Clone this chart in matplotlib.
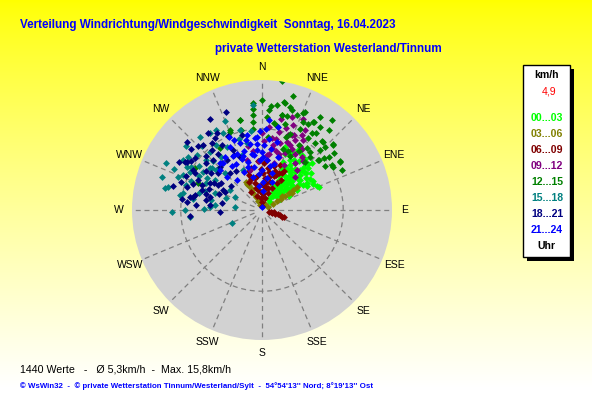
import matplotlib
matplotlib.use("Agg")
import matplotlib.pyplot as plt
import numpy as np
from matplotlib.patches import Rectangle

plt.rcParams['font.family'] = ['Liberation Sans', 'DejaVu Sans']

# wind direction (deg) / speed (km/h) per time bin
dir_00 = [30, 35, 40, 45, 50, 38, 42, 48, 52, 55, 33, 36, 40, 44, 47, 50, 53, 57, 60, 30,
          28, 34, 38, 42, 46, 49, 52, 55, 58, 62, 26, 31, 35, 39, 43, 47, 50, 54, 57, 24,
          29, 33, 37, 41, 45, 44, 22, 20, 27, 48, 60, 66, 68, 36, 31, 25, 30, 45, 58, 62,
          34, 39, 46, 51, 56, 43, 37, 48, 53, 41, 45, 35, 32, 28, 59, 63, 40, 47, 27, 38]
spd_00 = [1.5, 2.0, 2.2, 2.5, 2.8, 3.0, 3.4, 3.6, 3.2, 3.9, 3.5, 4.0, 4.3, 4.6, 4.1, 4.8, 4.4, 4.6, 5.0, 4.2,
          4.8, 5.0, 5.3, 5.6, 5.2, 5.8, 6.0, 5.5, 5.9, 6.3, 5.6, 5.9, 6.2, 6.5, 6.8, 6.4, 7.0, 6.7, 7.1, 6.5,
          7.0, 7.3, 7.6, 7.9, 8.0, 7.4, 7.4, 8.3, 8.0, 7.7, 7.2, 7.4, 7.5, 8.4, 8.6, 3.2, 2.6, 1.4, 2.6, 3.8,
          2.8, 3.8, 3.0, 4.2, 5.1, 5.0, 5.8, 6.9, 7.5, 6.2, 7.0, 7.0, 6.6, 6.0, 6.5, 7.0, 8.2, 8.4, 7.5, 4.8]

dir_03 = [340, 338, 335, 333, 332, 331, 330, 334, 329, 62, 61, 60, 59, 58, 58, 57, 57, 60, 56, 345, 28, 15]
spd_03 = [0.6, 1.2, 1.8, 2.4, 3.0, 3.5, 4.0, 2.8, 3.7, 0.8, 1.5, 2.1, 2.7, 3.3, 3.9, 4.5, 5.1, 4.2, 3.0, 1.0, 0.9, 0.5]

dir_06 = [0, 355, 5, 350, 10, 0, 345, 15, 5, 352, 20, 340, 10, 358, 25, 345, 15, 3, 28, 335,
          330, 338, 20, 25, 30, 12, 8, 348, 2, 18, 33, 342, 6, 22, 355, 0,
          350, 5, 12, 358, 344, 22, 15, 8, 30, 340,
          103, 104, 105, 106, 107, 108, 109, 100, 101]
spd_06 = [1.0, 1.5, 2.0, 2.5, 2.8, 3.2, 3.4, 3.6, 4.0, 4.2, 4.4, 4.6, 4.8, 5.0, 5.0, 5.4, 5.6, 5.8, 5.2, 3.8,
          2.6, 1.8, 2.2, 3.0, 3.8, 1.5, 3.4, 4.0, 4.5, 5.0, 4.4, 5.1, 6.2, 6.0, 6.0, 0.5,
          3.0, 3.0, 4.2, 2.2, 2.8, 4.6, 2.8, 5.2, 5.5, 4.0,
          0.9, 1.3, 1.7, 2.0, 2.3, 2.6, 2.8, 1.1, 1.5]

dir_09 = [5, 23, 25, 28, 23, 15, 13, 20, 22, 12, 9, 351, 343, 343, 41, 40, 10, 20, 22, 18,
          30, 33, 16, 8, 2, 356, 26, 35, 14, 5, 30, 18, 24, 12, 45, 348, 0,
          19, 26, 11, 31, 17, 7, 37, 28]
spd_09 = [10.3, 10.0, 9.5, 11.2, 8.7, 8.5, 7.4, 11.1, 9.9, 9.8, 7.7, 7.3, 6.4, 5.1, 6.5, 7.8, 8.1, 8.9, 7.5, 6.8,
          8.0, 9.0, 10.5, 9.0, 8.5, 6.0, 6.2, 7.0, 6.0, 6.8, 10.0, 12.0, 12.3, 11.5, 5.8, 8.0, 9.5,
          9.8, 8.4, 8.9, 9.2, 7.2, 7.0, 8.2, 10.5]

dir_12 = [8.7, 15.4, 8, 12, 16.5, 22.8, 30, 38, 41, 47.5, 58, 59, 48, 42, 355, 355, 354.6, 354, 353.7, 346,
          345, 337.7, 11.3, 3.8, 15.3, 11.9, 23.8, 30.3, 35, 33, 42, 47, 51.7, 58.3, 63.4, 57.3, 48.6, 39.6, 32, 42,
          293, 302, 325.8, 338, 346, 5, 10, 15, 20, 25, 28, 33, 36, 18, 12, 3, 38, 30, 24, 44,
          50, 55, 27, 19, 8, 20, 15, 25, 35, 40, 45, 52, 32, 5, 0]
spd_12 = [16.0, 14.5, 13.0, 13.5, 12.8, 13.0, 12.5, 14.0, 11.2, 11.8, 11.3, 10.2, 9.2, 8.8, 13.2, 12.5, 11.7, 10.9, 10.0, 11.4,
          10.2, 10.4, 13.6, 12.3, 13.2, 12.0, 13.2, 12.6, 12.5, 11.3, 11.3, 12.0, 11.3, 11.3, 11.0, 10.2, 9.3, 9.3, 8.5, 8.0,
          8.5, 9.7, 9.2, 10.6, 11.4, 9.0, 10.5, 11.0, 10.0, 11.0, 12.0, 10.5, 9.5, 9.5, 12.0, 11.5, 10.5, 9.2, 8.0, 10.2,
          10.0, 9.5, 7.5, 8.0, 10.8, 12.5, 12.0, 12.0, 11.5, 12.8, 11.0, 10.5, 13.5, 12.8, 13.5]

dir_15 = [268.5, 288, 296, 264.5, 246.6, 337.4, 355, 280, 311, 282, 291.7, 300, 326, 309.8, 313.6, 312, 276, 288, 347, 344.6,
          294, 301.6, 303, 308.7, 302.5, 295.7, 333.2, 330.9, 296, 277, 273.6, 302, 335, 310, 318, 322, 305, 298, 315, 285,
          290, 320, 340, 352, 270, 284, 292, 298, 306, 315, 300, 288, 279, 271, 283, 295, 325, 330, 342, 288, 302, 310,
          317, 281]
spd_15 = [11.1, 13.0, 13.1, 8.9, 4.0, 11.9, 13.0, 10.3, 7.5, 10.0, 11.1, 10.7, 11.4, 8.0, 7.4, 9.2, 5.8, 4.6, 8.4, 10.2,
          10.6, 10.2, 8.6, 8.2, 6.9, 7.6, 10.6, 8.9, 3.7, 3.3, 6.4, 4.6, 5.4, 10.5, 9.6, 8.2, 9.5, 8.8, 6.4, 8.0,
          6.2, 11.8, 7.2, 9.8, 9.5, 11.9, 9.4, 10.0, 11.2, 8.6, 7.8, 7.4, 8.6, 7.2, 12.3, 12.0, 9.8, 11.4, 9.2, 9.8, 11.5, 12.2,
          10.8, 6.4]

dir_18 = [340, 330, 311, 302.7, 265, 280.5, 329.7, 325, 323, 302, 298.7, 295, 287, 278, 281, 288.3, 284, 298.7, 279.4, 297,
          314, 322, 324.8, 334.4, 337.6, 319, 316, 315.8, 275.5, 267.7, 274.4, 305, 310, 292, 306, 300, 290, 283, 318, 345,
          335, 308, 326, 312, 294, 285, 300, 305, 310, 289, 293, 297, 303, 320, 328, 333, 286, 280, 276, 291, 308, 315,
          320, 327, 300, 296]
spd_18 = [12.9, 12.9, 11.5, 11.0, 8.9, 9.0, 11.0, 11.5, 10.3, 11.2, 9.4, 8.7, 9.7, 10.0, 8.6, 7.8, 6.6, 6.8, 5.0, 5.4,
          9.5, 8.8, 7.5, 8.2, 7.1, 6.0, 7.4, 8.6, 6.4, 5.2, 8.1, 10.6, 9.0, 7.0, 7.8, 6.2, 5.6, 8.4, 10.8, 9.6,
          10.0, 4.8, 5.8, 12.5, 10.2, 11.3, 9.8, 8.4, 7.0, 10.5, 8.0, 7.2, 6.0, 7.6, 9.4, 7.6, 7.2, 7.0, 9.3, 9.1, 10.4, 11.2,
          9.6, 10.6, 11.8, 5.0]

dir_21 = [4.6, 11, 354.4, 357.7, 336, 313.6, 19, 341.7, 340.7, 331.7, 320, 313.3, 320, 355, 0, 5.4, 14.8, 4, 0, 355.5,
          358.5, 349.8, 348.5, 333, 338.5, 344, 350, 345, 352, 8, 12, 2, 326, 335, 10, 3, 17,
          350, 356, 1, 6, 347, 343, 330, 325, 338, 0, 8, 15, 352, 356, 342, 318, 336, 2]
spd_21 = [11.1, 10.4, 8.9, 6.2, 9.9, 7.1, 3.7, 8.7, 7.0, 7.5, 7.5, 6.0, 4.8, 7.4, 4.9, 6.2, 4.7, 2.3, 0.4, 8.2,
          9.7, 8.3, 9.4, 8.7, 6.8, 6.2, 5.4, 4.2, 3.0, 7.6, 8.6, 8.0, 6.5, 5.2, 5.5, 10.0, 6.8,
          7.0, 9.0, 6.5, 8.8, 8.8, 7.6, 6.5, 8.0, 9.3, 7.2, 4.0, 5.8, 6.8, 4.5, 5.6, 7.8, 7.6, 3.4]

bins = ['00...03', '03...06', '06...09', '09...12', '12...15', '15...18', '18...21', '21...24']
colors = ['#00ff00', '#808000', '#800000', '#800080', '#008000', '#008080', '#000080', '#0000ff']
all_dirs = [dir_00, dir_03, dir_06, dir_09, dir_12, dir_15, dir_18, dir_21]
all_spds = [spd_00, spd_03, spd_06, spd_09, spd_12, spd_15, spd_18, spd_21]

compass = ['N', 'NNE', 'NE', 'ENE', 'E', 'ESE', 'SE', 'SSE',
           'S', 'SSW', 'SW', 'WSW', 'W', 'WNW', 'NW', 'NNW']
rmax = 16

fig = plt.figure(figsize=(5.92, 4.07), dpi=100)

# yellow -> white gradient background
bg = fig.add_axes([0, 0, 1, 1])
grad = np.linspace(0, 1, 256).reshape(-1, 1)
rgb = np.ones((256, 1, 3))
rgb[:, 0, 2] = np.clip(grad[:, 0] * 1.05, 0, 1) ** 0.8
bg.imshow(rgb, aspect='auto', extent=[0, 1, 0, 1], origin='upper')
bg.set_xlim(0, 1)
bg.set_ylim(0, 1)
bg.axis('off')

W, H = 592, 407
cx, cy, rad = 262, 210, 130
ax = fig.add_axes([(cx - rad) / W, (H - cy - rad) / H, 2 * rad / W, 2 * rad / H], projection='polar')
ax.set_theta_zero_location('N')
ax.set_theta_direction(-1)
ax.set_ylim(0, rmax)
ax.set_facecolor('#d2d2d2')
ax.set_xticks([])
ax.set_yticks([])
ax.grid(False)
ax.spines['polar'].set_visible(False)

for i, name in enumerate(compass):
    th = np.radians(i * 22.5)
    ax.plot([th, th], [1.0, rmax], ls=(0, (4, 3)), color='#808080', lw=0.9, zorder=1)
    ax.text(th, 17.6, name, ha='center', va='center', fontsize=7.5, clip_on=False)
ring = np.linspace(0, 2 * np.pi, 300)
ax.plot(ring, np.full_like(ring, 10), ls=(0, (4, 3)), color='#808080', lw=0.9, zorder=1)

for d, s, c in zip(all_dirs, all_spds, colors):
    ax.plot(np.radians(d), s, 'D', ms=3.5, color=c, mew=0, ls='none', zorder=3)

# titles
fig.text(20 / W, 1 - 25 / H, 'Verteilung Windrichtung/Windgeschwindigkeit  Sonntag, 16.04.2023',
         color='#0000ff', fontsize=8.4, fontweight='bold', va='center', ha='left')
fig.text(215 / W, 1 - 49 / H, 'private Wetterstation Westerland/Tinnum',
         color='#0000ff', fontsize=8.4, fontweight='bold', va='center', ha='left')

fig.text(20 / W, 1 - 369 / H, '1440 Werte   -   Ø 5,3km/h  -  Max. 15,8km/h',
         color='black', fontsize=7.7, va='center', ha='left')
fig.text(20 / W, 1 - 386 / H,
         "© WsWin32  -  © private Wetterstation Tinnum/Westerland/Sylt  -  54°54'13'' Nord; 8°19'13'' Ost",
         color='#0000ff', fontsize=5.7, fontweight='bold', va='center', ha='left')

# legend box with shadow
lx0, ly0, lx1, ly1 = 523, 65, 570, 257
bg.add_patch(Rectangle((lx0 / W + 4 / W, 1 - (ly1 + 4) / H), (lx1 - lx0) / W, (ly1 - ly0) / H,
                       facecolor='black', edgecolor='black', lw=0, zorder=2))
bg.add_patch(Rectangle((lx0 / W, 1 - ly1 / H), (lx1 - lx0) / W, (ly1 - ly0) / H,
                       facecolor='white', edgecolor='black', lw=1, zorder=3))
lcx = (lx0 + lx1) / 2
fig.text(lcx / W, 1 - 75 / H, 'km/h', fontsize=7.6, fontweight='bold', ha='center', va='center')
fig.text((lcx + 3) / W, 1 - 92 / H, '4,9', fontsize=7.6, color='#ff0000', ha='center', va='center')
for k, (lab, c) in enumerate(zip(bins, colors)):
    fig.text(531 / W, 1 - (118.3 + k * 16) / H, lab, fontsize=7.6, fontweight='bold', color=c,
             ha='left', va='center')
fig.text(lcx / W, 1 - 246 / H, 'Uhr', fontsize=7.6, fontweight='bold', ha='center', va='center')

fig.savefig('out.png', dpi=100)
